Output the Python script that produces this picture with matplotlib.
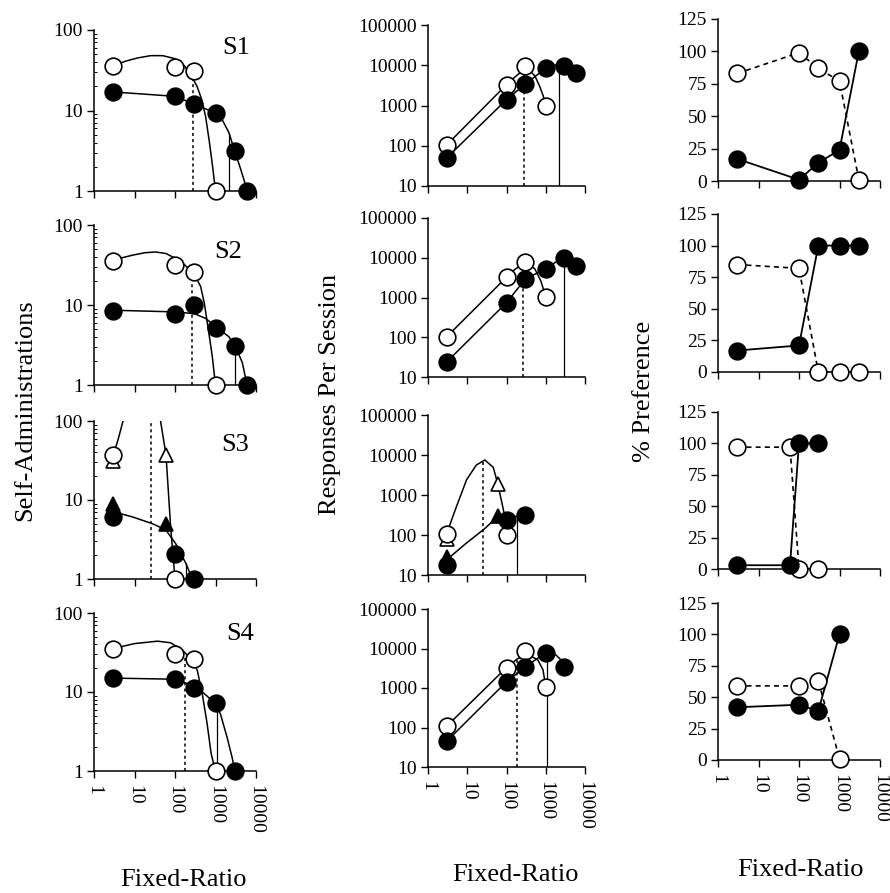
import matplotlib
matplotlib.use("Agg")
import matplotlib.pyplot as plt
from matplotlib.ticker import FixedLocator, LogLocator, NullFormatter

plt.rcParams["font.family"] = ["Liberation Serif", "DejaVu Serif"]

# ---------------- S1 ----------------
s1_fr_open = [3, 100, 300, 1000]
s1_sa_open = [36, 35, 31, 1]
s1_fr_closed = [3, 100, 300, 1000, 3000, 6000]
s1_sa_closed = [17, 15, 12, 9.3, 3.1, 1]
s1_resp_open = [105, 3300, 9600, 1000]
s1_resp_closed = [50, 1400, 3400, 8400, 9800, 6500]
s1_pref_fr = [3, 100, 300, 1000, 3000]
s1_pref_open = [83, 99, 87, 77, 1]
s1_pref_closed = [17, 1, 14, 24, 100]
# fitted curves
s1_sa_curve_open_x = [3, 6, 12, 25, 50, 100, 170, 250, 350, 450, 570, 700, 850, 1000]
s1_sa_curve_open_y = [36, 41, 45, 48, 48, 44, 36, 27, 20, 14, 8.4, 4.2, 2.0, 1]
s1_sa_curve_closed_x = [3, 100, 300, 1000, 1500, 2150, 3000, 4000, 5000, 6000]
s1_sa_curve_closed_y = [17, 15, 12, 9.3, 7.5, 5.3, 3.1, 2.0, 1.4, 1]
s1_resp_curve_open_x = [3, 100, 160, 220, 300, 400, 530, 700, 850, 1000]
s1_resp_curve_open_y = [105, 3300, 5000, 6500, 7500, 7200, 5400, 3000, 1800, 1000]
s1_resp_curve_closed_x = [3, 100, 300, 1000, 1500, 2150, 3000, 4500, 6000]
s1_resp_curve_closed_y = [50, 1400, 3400, 8400, 9800, 10500, 9800, 8000, 6500]
s1_pmax = [280, 2150]
s1_pmax_sa_top = [26, 5.3]
s1_pmax_resp_top = [7500, 10500]

# ---------------- S2 ----------------
s2_fr_open = [3, 100, 300, 1000]
s2_sa_open = [35, 32, 26, 1]
s2_fr_closed = [3, 100, 300, 1000, 3000, 6000]
s2_sa_closed = [8.5, 7.7, 10, 5.1, 3.1, 1]
s2_resp_open = [103, 3240, 7900, 1050]
s2_resp_closed = [24, 740, 2900, 5300, 10000, 6300]
s2_pref_fr = [3, 100, 300, 1000, 3000]
s2_pref_open = [85, 82, 0, 0, 0]
s2_pref_closed = [17, 21, 100, 100, 100]
s2_sa_curve_open_x = [3, 5, 9, 18, 33, 60, 105, 170, 245, 330, 430, 530, 630, 730, 830, 1000]
s2_sa_curve_open_y = [35, 39, 42, 45, 46, 44, 38, 32, 27, 22, 17, 10.5, 5.9, 3.6, 2.3, 1]
s2_sa_curve_closed_x = [3, 100, 300, 570, 1000, 2150, 3150, 4600, 6000]
s2_sa_curve_closed_y = [8.6, 8.2, 7.8, 6.8, 5.4, 4.0, 3.0, 1.9, 1.0]
s2_resp_curve_open_x = [3, 100, 160, 220, 300, 400, 530, 750, 1000]
s2_resp_curve_open_y = [103, 3240, 5000, 6300, 7000, 6600, 5200, 2600, 1050]
s2_resp_curve_closed_x = [3, 100, 300, 1000, 2000, 3000, 4500, 6000]
s2_resp_curve_closed_y = [24, 740, 2900, 5300, 8300, 10000, 8300, 6300]
s2_pmax = [257, 3000]
s2_pmax_sa_top = [25, 3.1]
s2_pmax_resp_top = [7000, 10000]

# ---------------- S3 ----------------
s3_fr_open = [3, 100]
s3_sa_open = [37, 1]
s3_fr_open_tri = [3, 60]
s3_sa_open_tri = [31, 37]
s3_fr_closed = [3, 100, 300]
s3_sa_closed = [6.1, 2.1, 1]
s3_fr_closed_tri = [3, 60]
s3_sa_closed_tri = [9, 4.9]
s3_resp_open = [107, 100]
s3_resp_open_tri = [80, 1900]
s3_resp_closed = [18, 240, 316]
s3_resp_closed_tri = [29, 300]
s3_pref_fr = [3, 60, 100, 300]
s3_pref_open = [97, 97, 0, 0]
s3_pref_closed = [3, 3, 100, 100]
s3_sa_curve_open_x = [3, 4, 5.2, 9.6, 17, 28, 44, 60, 78, 100]
s3_sa_curve_open_y = [37, 60, 100, 250, 330, 268, 100, 37, 4.6, 1]
s3_sa_curve_closed_x = [3, 9, 28, 59, 104, 183, 270]
s3_sa_curve_closed_y = [7.1, 6.1, 5.0, 4.2, 2.8, 1.6, 1.0]
s3_resp_curve_open_x = [3, 4, 5.3, 9.6, 17, 28, 46, 60, 87, 100]
s3_resp_curve_open_y = [107, 240, 510, 2400, 5600, 7500, 4900, 1900, 350, 100]
s3_resp_curve_closed_x = [3, 9, 28, 60, 100, 180, 300]
s3_resp_curve_closed_y = [24, 60, 145, 290, 290, 290, 316]
s3_pmax = [25, 190]
s3_pmax_sa_top = [100, 1.6]
s3_pmax_resp_top = [7500, 300]

# ---------------- S4 ----------------
s4_fr_open = [3, 100, 300, 1000]
s4_sa_open = [35.5, 30.7, 26, 1]
s4_fr_closed = [3, 100, 300, 1000, 3000]
s4_sa_closed = [15, 14.5, 11.2, 7.2, 1]
s4_resp_open = [108, 3300, 8700, 1070]
s4_resp_closed = [45, 1440, 3400, 7900, 3400]
s4_pref_fr = [3, 100, 300, 1000]
s4_pref_open = [59, 59, 63, 1]
s4_pref_closed = [42, 44, 39, 100]
s4_sa_curve_open_x = [3, 10, 37, 78, 152, 268, 355, 470, 620, 780, 1000]
s4_sa_curve_open_y = [35.5, 41, 44, 42, 34, 25, 18.8, 9.5, 4.0, 1.66, 1]
s4_sa_curve_closed_x = [3, 100, 200, 425, 900, 1320, 1920, 2560, 3000]
s4_sa_curve_closed_y = [15, 14.5, 12.8, 10.5, 7.5, 5.3, 2.7, 1.5, 1]
s4_resp_curve_open_x = [3, 100, 190, 280, 400, 630, 850, 1000]
s4_resp_curve_open_y = [108, 3300, 5500, 6500, 6600, 5100, 2900, 1070]
s4_resp_curve_closed_x = [3, 100, 300, 1000, 1800, 2700, 3000]
s4_resp_curve_closed_y = [45, 1440, 3400, 7900, 6900, 4700, 3400]
s4_pmax = [180, 1100]
s4_pmax_sa_top = [29, 6]
s4_pmax_resp_top = [5500, 7900]

subjects = ["S1", "S2", "S3", "S4"]
x_ticks = [1, 10, 100, 1000, 10000]
x_ticklabels = ["1", "10", "100", "1000", "10000"]

W, H = 890, 893


def box(l, t, r, b):
    return [l / W, 1 - b / H, (r - l) / W, (b - t) / H]


boxes_sa = [(94, 30, 256, 191), (94, 225, 256, 385), (94, 421, 256, 579), (94, 613, 256, 771)]
boxes_resp = [(428, 25, 585, 186), (428, 218, 585, 377), (428, 415, 585, 575), (428, 609, 585, 767)]
boxes_pref = [(718, 19, 880, 181), (718, 214, 880, 372), (718, 412, 880, 569), (718, 603, 880, 760)]
label_pos = [(0.88, 0.89), (0.83, 0.83), (0.87, 0.85), (0.90, 0.87)]

fig = plt.figure(figsize=(8.9, 8.93), dpi=100)

MS = 12
TICK_FS = 14
open_kw = dict(marker="o", ms=MS, mfc="white", mec="black", mew=1.2, ls="none", clip_on=False, zorder=4)
closed_kw = dict(marker="o", ms=MS, mfc="black", mec="black", mew=1.2, ls="none", clip_on=False, zorder=5)
curve_kw = dict(color="black", lw=1.1, zorder=2)


def style_axes(ax, bottom):
    for s in ["top", "right"]:
        ax.spines[s].set_visible(False)
    for s in ["left", "bottom"]:
        ax.spines[s].set_linewidth(1.1)
    ax.set_xscale("log")
    ax.set_xlim(1, 10000)
    ax.xaxis.set_major_locator(FixedLocator(x_ticks))
    ax.xaxis.set_minor_locator(LogLocator(base=10, subs=range(2, 10)))
    ax.xaxis.set_minor_formatter(NullFormatter())
    if bottom:
        ax.set_xticklabels(x_ticklabels, rotation=270, fontsize=TICK_FS)
    else:
        ax.set_xticklabels([])
    ax.tick_params(axis="x", which="major", direction="out", length=5, width=1.0, pad=5)
    ax.tick_params(axis="x", which="minor", direction="in", length=2.5, width=0.7)
    ax.tick_params(axis="y", which="major", direction="out", length=5, width=1.0, pad=3, labelsize=TICK_FS)
    ax.tick_params(axis="y", which="minor", direction="in", length=2.5, width=0.7)


def log_y(ax, lo, hi):
    ax.set_yscale("log")
    ax.set_ylim(lo, hi)
    ticks = []
    v = lo
    while v <= hi:
        ticks.append(v)
        v *= 10
    ax.yaxis.set_major_locator(FixedLocator(ticks))
    ax.set_yticklabels([str(t) for t in ticks])
    ax.yaxis.set_minor_locator(LogLocator(base=10, subs=range(2, 10)))
    ax.yaxis.set_minor_formatter(NullFormatter())


data = [
    dict(fo=s1_fr_open, so=s1_sa_open, fc=s1_fr_closed, sc=s1_sa_closed, ro=s1_resp_open, rc=s1_resp_closed,
         pf=s1_pref_fr, po=s1_pref_open, pc=s1_pref_closed,
         sox=s1_sa_curve_open_x, soy=s1_sa_curve_open_y, scx=s1_sa_curve_closed_x, scy=s1_sa_curve_closed_y,
         rox=s1_resp_curve_open_x, roy=s1_resp_curve_open_y, rcx=s1_resp_curve_closed_x, rcy=s1_resp_curve_closed_y,
         pm=s1_pmax, pst=s1_pmax_sa_top, prt=s1_pmax_resp_top),
    dict(fo=s2_fr_open, so=s2_sa_open, fc=s2_fr_closed, sc=s2_sa_closed, ro=s2_resp_open, rc=s2_resp_closed,
         pf=s2_pref_fr, po=s2_pref_open, pc=s2_pref_closed,
         sox=s2_sa_curve_open_x, soy=s2_sa_curve_open_y, scx=s2_sa_curve_closed_x, scy=s2_sa_curve_closed_y,
         rox=s2_resp_curve_open_x, roy=s2_resp_curve_open_y, rcx=s2_resp_curve_closed_x, rcy=s2_resp_curve_closed_y,
         pm=s2_pmax, pst=s2_pmax_sa_top, prt=s2_pmax_resp_top),
    dict(fo=s3_fr_open, so=s3_sa_open, fc=s3_fr_closed, sc=s3_sa_closed, ro=s3_resp_open, rc=s3_resp_closed,
         pf=s3_pref_fr, po=s3_pref_open, pc=s3_pref_closed,
         sox=s3_sa_curve_open_x, soy=s3_sa_curve_open_y, scx=s3_sa_curve_closed_x, scy=s3_sa_curve_closed_y,
         rox=s3_resp_curve_open_x, roy=s3_resp_curve_open_y, rcx=s3_resp_curve_closed_x, rcy=s3_resp_curve_closed_y,
         pm=s3_pmax, pst=s3_pmax_sa_top, prt=s3_pmax_resp_top),
    dict(fo=s4_fr_open, so=s4_sa_open, fc=s4_fr_closed, sc=s4_sa_closed, ro=s4_resp_open, rc=s4_resp_closed,
         pf=s4_pref_fr, po=s4_pref_open, pc=s4_pref_closed,
         sox=s4_sa_curve_open_x, soy=s4_sa_curve_open_y, scx=s4_sa_curve_closed_x, scy=s4_sa_curve_closed_y,
         rox=s4_resp_curve_open_x, roy=s4_resp_curve_open_y, rcx=s4_resp_curve_closed_x, rcy=s4_resp_curve_closed_y,
         pm=s4_pmax, pst=s4_pmax_sa_top, prt=s4_pmax_resp_top),
]

tri_open_kw = dict(open_kw, marker="^", ms=10.5, zorder=3.5)
tri_closed_kw = dict(closed_kw, marker="^", ms=10.5, zorder=4.5)

for i, d in enumerate(data):
    bottom = i == 3

    # self-administrations
    ax = fig.add_axes(box(*boxes_sa[i]))
    style_axes(ax, bottom)
    log_y(ax, 1, 100)
    ax.plot(d["sox"], d["soy"], **curve_kw)
    ax.plot(d["scx"], d["scy"], **curve_kw)
    ax.vlines(d["pm"][0], 1, d["pst"][0], colors="black", linestyles=(0, (2, 2)), lw=1.1, zorder=1.5)
    ax.vlines(d["pm"][1], 1, d["pst"][1], colors="black", lw=0.9, zorder=1.5)
    if i == 2:
        ax.plot(s3_fr_open_tri, s3_sa_open_tri, **tri_open_kw)
        ax.plot(s3_fr_closed_tri, s3_sa_closed_tri, **tri_closed_kw)
    ax.plot(d["fo"], d["so"], **open_kw)
    ax.plot(d["fc"], d["sc"], **closed_kw)
    ax.text(*label_pos[i], subjects[i], transform=ax.transAxes, ha="center", va="center", fontsize=19)

    # responses per session
    ax = fig.add_axes(box(*boxes_resp[i]))
    style_axes(ax, bottom)
    log_y(ax, 10, 100000)
    ax.plot(d["rox"], d["roy"], **curve_kw)
    ax.plot(d["rcx"], d["rcy"], **curve_kw)
    ax.vlines(d["pm"][0], 10, d["prt"][0], colors="black", linestyles=(0, (2, 2)), lw=1.1, zorder=1.5)
    ax.vlines(d["pm"][1], 10, d["prt"][1], colors="black", lw=0.9, zorder=1.5)
    if i == 2:
        ax.plot(s3_fr_open_tri, s3_resp_open_tri, **tri_open_kw)
        ax.plot(s3_fr_closed_tri, s3_resp_closed_tri, **tri_closed_kw)
    ax.plot(d["fo"], d["ro"], **open_kw)
    ax.plot(d["fc"], d["rc"], **closed_kw)

    # % preference
    ax = fig.add_axes(box(*boxes_pref[i]))
    style_axes(ax, bottom)
    ax.set_ylim(0, 125)
    ax.set_yticks([0, 25, 50, 75, 100, 125])
    ax.set_yticklabels(["0", "25", "50", "75", "100", "125"])
    ax.plot(d["pf"], d["po"], color="black", lw=1.2, ls=(0, (3, 2.5)), zorder=2)
    ax.plot(d["pf"], d["pc"], color="black", lw=1.3, zorder=2)
    ax.plot(d["pf"], d["po"], **open_kw)
    ax.plot(d["pf"], d["pc"], **closed_kw)

fig.text(25 / W, 1 - 410 / H, "Self-Administrations", rotation=90, ha="center", va="center", fontsize=19)
fig.text(330 / W, 1 - 394 / H, "Responses Per Session", rotation=90, ha="center", va="center", fontsize=19)
fig.text(644 / W, 1 - 391 / H, "% Preference", rotation=90, ha="center", va="center", fontsize=19)
fig.text(183 / W, 1 - 880 / H, "Fixed-Ratio", ha="center", va="center", fontsize=19)
fig.text(515 / W, 1 - 875 / H, "Fixed-Ratio", ha="center", va="center", fontsize=19)
fig.text(800 / W, 1 - 870 / H, "Fixed-Ratio", ha="center", va="center", fontsize=19)

fig.savefig("out.png", dpi=100)
